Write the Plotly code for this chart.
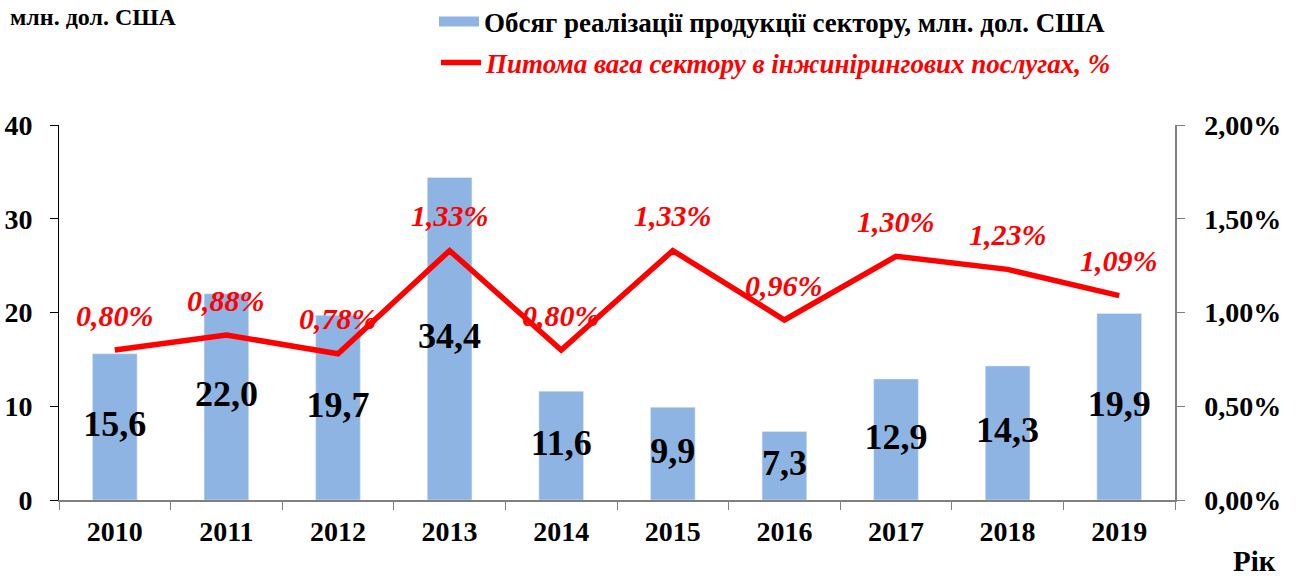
import plotly.graph_objects as go

years = ["2010", "2011", "2012", "2013", "2014", "2015", "2016", "2017", "2018", "2019"]
volume = [15.6, 22.0, 19.7, 34.4, 11.6, 9.9, 7.3, 12.9, 14.3, 19.9]
share_pct = [0.80, 0.88, 0.78, 1.33, 0.80, 1.33, 0.96, 1.30, 1.23, 1.09]

bar_name = "Обсяг реалізації продукції сектору, млн. дол. США"
line_name = "Питома вага сектору в інжинірингових послугах, %"

FONT = "Liberation Serif, Times New Roman, serif"
BAR_COLOR = "#8EB4E3"
RED = "#FF0000"

share = [v / 100 for v in share_pct]
vol_text = [f"{v:.1f}".replace(".", ",") for v in volume]
share_text = [f"{v:.2f}%".replace(".", ",") for v in share_pct]

fig = go.Figure()
fig.add_trace(go.Bar(
    x=years, y=volume, name=bar_name, marker_color=BAR_COLOR, width=0.4,
    yaxis="y", showlegend=False,
))
# legend-only swatch for the bars (wide rectangle like the reference)
fig.add_trace(go.Scatter(
    x=[None], y=[None], mode="lines", name=bar_name,
    line=dict(color=BAR_COLOR, width=15), legend="legend", yaxis="y",
))
fig.add_trace(go.Scatter(
    x=years, y=[v / 2 for v in volume], mode="text", text=vol_text,
    textfont=dict(family=FONT, size=36, color="black", weight="bold"),
    showlegend=False, yaxis="y", hoverinfo="skip",
))
fig.add_trace(go.Scatter(
    x=years, y=share, name=line_name, mode="lines",
    line=dict(color=RED, width=5.5), yaxis="y2", legend="legend2",
))

for i, (y, t) in enumerate(zip(share, share_text)):
    fig.add_annotation(
        x=i, y=y, xref="x", yref="y2", text=t, showarrow=False, yshift=35,
        font=dict(family=FONT, size=30, color=RED, weight="bold", style="italic"),
    )

fig.add_annotation(
    x=(8 - 59) / 1116, y=(500 - 17) / 375, xref="paper", yref="paper",
    text="млн. дол. США", showarrow=False,
    font=dict(family=FONT, size=24, color="black", weight="bold"),
    xanchor="left", yanchor="middle",
)
fig.add_annotation(
    x=(1254 - 59) / 1116, y=(500 - 561) / 375, xref="paper", yref="paper",
    xanchor="center", yanchor="middle", text="Рік", showarrow=False,
    font=dict(family=FONT, size=29, color="black", weight="bold"),
)

fig.update_layout(
    width=1298, height=576,
    margin=dict(l=59, r=123, t=125, b=76, autoexpand=False),
    plot_bgcolor="white", paper_bgcolor="white",
    separators=", ",
    font=dict(family=FONT, color="black"),
    xaxis=dict(
        type="category", range=[-0.5, 9.5], showgrid=False, automargin=False,
        showline=True, linecolor="#808080", linewidth=1.5,
        ticks="outside", tickson="boundaries", ticklen=8, tickcolor="#808080",
        tickfont=dict(family=FONT, size=28, weight="bold"),
        ticklabelstandoff=6,
    ),
    yaxis=dict(
        range=[0, 40], dtick=10, showgrid=False, zeroline=False, automargin=False,
        showline=True, linecolor="black", linewidth=1,
        ticks="outside", ticklen=8, tickcolor="black",
        tickfont=dict(family=FONT, size=28, weight="bold"),
        ticklabelstandoff=12,
    ),
    yaxis2=dict(
        range=[0, 0.02], dtick=0.005, tickformat=".2%", overlaying="y", side="right",
        showgrid=False, zeroline=False, automargin=False,
        showline=True, linecolor="#808080", linewidth=1.5,
        ticks="outside", ticklen=8, tickcolor="#808080",
        tickfont=dict(family=FONT, size=28, weight="bold"),
        ticklabelstandoff=14,
    ),
    legend=dict(
        x=(434 - 59) / 1116, y=(500 - 22) / 375, xanchor="left", yanchor="middle",
        bgcolor="rgba(0,0,0,0)",
        font=dict(family=FONT, size=27, color="black", weight="bold"),
        itemwidth=40,
    ),
    legend2=dict(
        x=(436 - 59) / 1116, y=(500 - 63) / 375, xanchor="left", yanchor="middle",
        bgcolor="rgba(0,0,0,0)",
        font=dict(family=FONT, size=27, color=RED, weight="bold", style="italic"),
        itemwidth=40,
    ),
)

# remove the default 8px page margin so the figure sits at the window's top-left corner
fig.write_html(
    "out.html",
    config={"displayModeBar": False},
    post_script="document.body.style.margin='0';",
)
